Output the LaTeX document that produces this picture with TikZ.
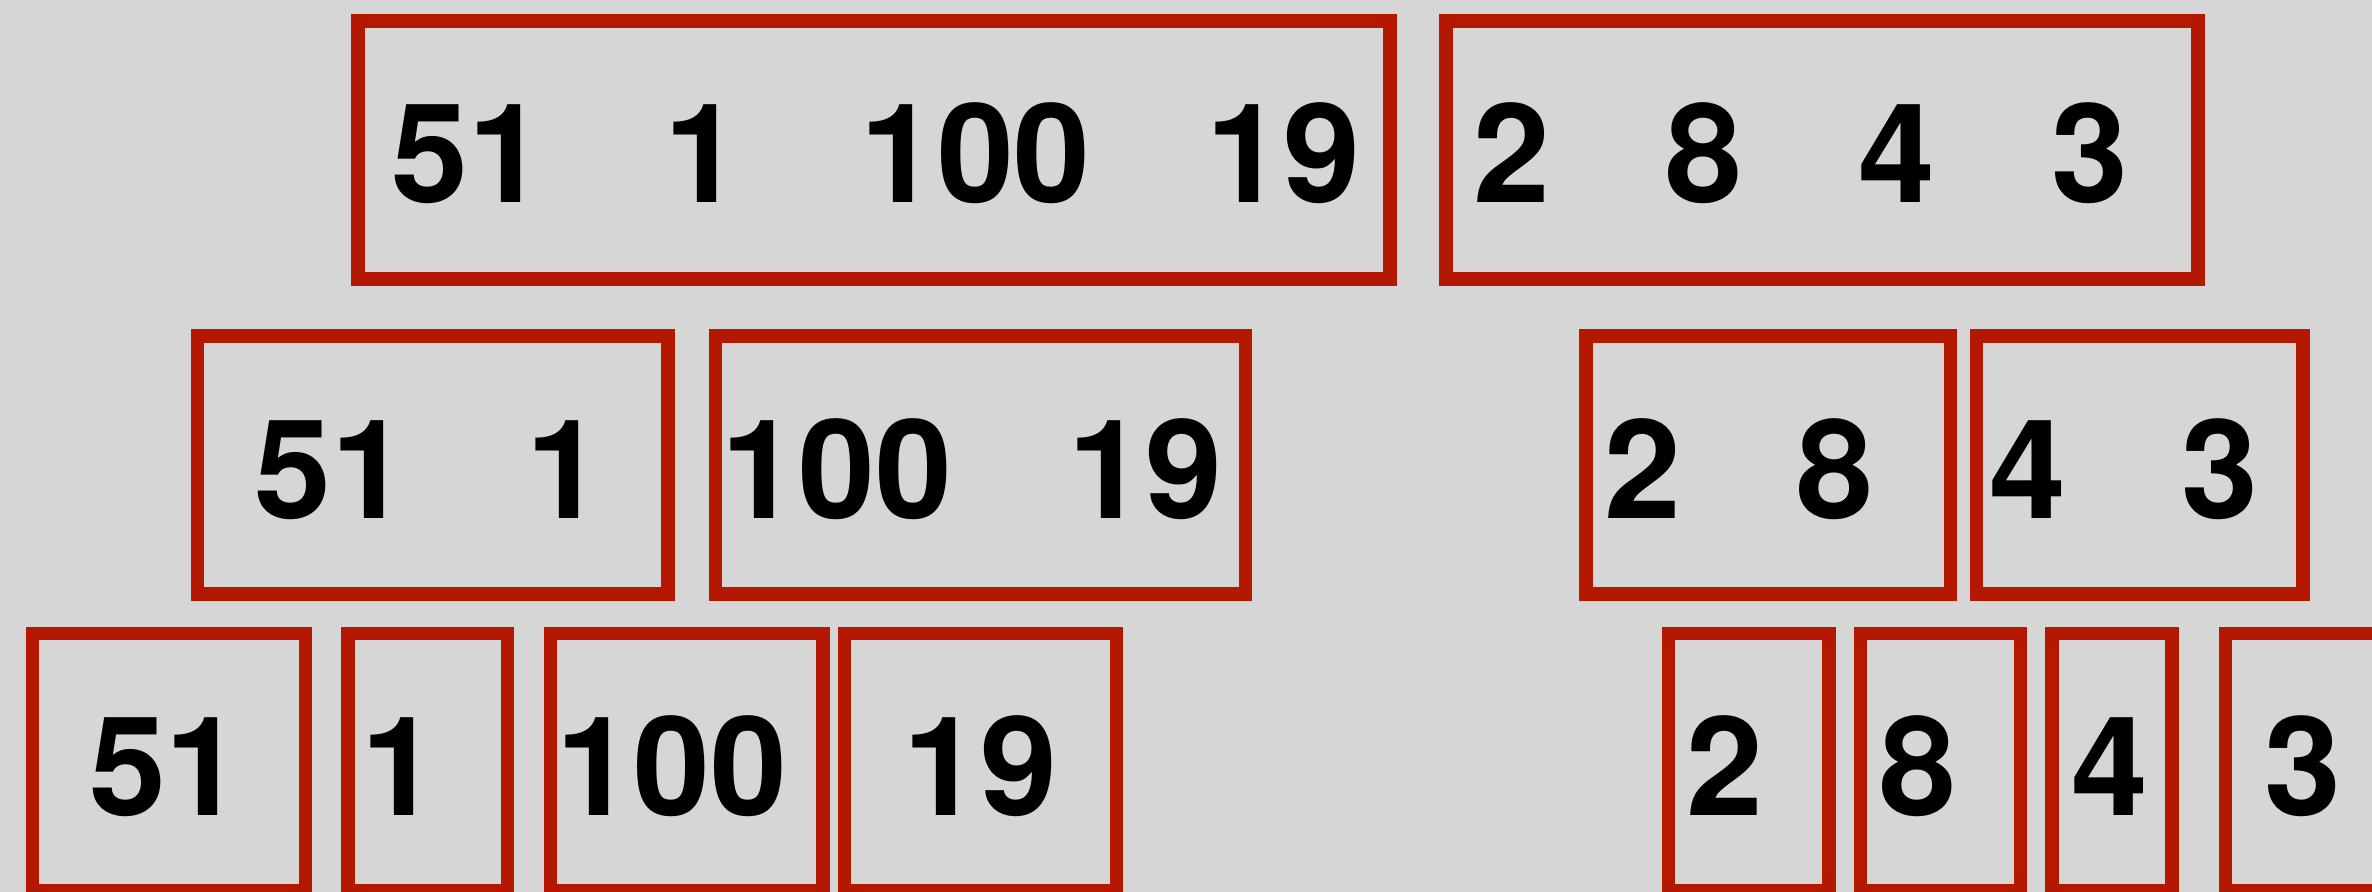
\documentclass[tikz,border=0pt]{standalone}
\usepackage{fontspec}
\setmainfont{TeX Gyre Heros}
\usetikzlibrary{fit}
\definecolor{bg}{RGB}{214,214,214}
\definecolor{boxred}{RGB}{181,24,0}
\tikzset{
  cell/.style={draw=boxred, line width=4.05pt, inner sep=0pt, outer sep=0pt},
  num/.style={anchor=base, inner sep=0pt, text=black, font=\fontsize{41.4pt}{41.4pt}\selectfont\bfseries}
}
\begin{document}
\begin{tikzpicture}[x=0.3pt, y=-0.3pt]
\fill[bg] (0,0) rectangle (2372,892);
\useasboundingbox (0,0) rectangle (2372,892);
\clip (0,0) rectangle (2372,892);
% row 1
\node[cell, fit={(358,21) (1390,279)}] (ra) {};
\node[cell, fit={(1446,21) (2198,279)}] (rb) {};
\node[num] (ra1) at (468,203) {51};
\node[num] (ra2) at (703,203) {1};
\node[num] (ra3) at (975.5,203) {100};
\node[num] (ra4) at (1283,203) {19};
\node[num] (rb1) at (1512,203) {2};
\node[num] (rb2) at (1704,203) {8};
\node[num] (rb3) at (1897,203) {4};
\node[num] (rb4) at (2089.5,203) {3};
% row 2
\node[cell, fit={(197.5,336) (668,594)}] (sa) {};
\node[cell, fit={(715.5,336) (1245.5,594)}] (sb) {};
\node[cell, fit={(1586,336) (1950.5,594)}] (sc) {};
\node[cell, fit={(1976.5,336) (2303,594)}] (sd) {};
\node[num] (sa1) at (331,518.3) {51};
\node[num] (sa2) at (565,518.3) {1};
\node[num] (sb1) at (837,518.3) {100};
\node[num] (sb2) at (1145.5,518.3) {19};
\node[num] (sc1) at (1642.5,518.3) {2};
\node[num] (sc2) at (1835,518.3) {8};
\node[num] (sd1) at (2028,518.3) {4};
\node[num] (sd2) at (2220,518.3) {3};
% row 3
\node[cell, fit={(32.5,633.5) (305.5,891)}] (ua) {};
\node[cell, fit={(348,633.5) (507.5,891)}] (ub) {};
\node[cell, fit={(550.5,633.5) (823,891)}] (uc) {};
\node[cell, fit={(844.5,633.5) (1116.5,891)}] (ud) {};
\node[cell, fit={(1668.5,633.5) (1829,891)}] (ue) {};
\node[cell, fit={(1860.5,633.5) (2020.5,891)}] (uf) {};
\node[cell, fit={(2052,633.5) (2172,891)}] (ug) {};
\node[cell, fit={(2225.5,633.5) (2420,891)}] (uh) {};
\node[num] (ua1) at (166,816) {51};
\node[num] (ub1) at (400,816) {1};
\node[num] (uc1) at (672,816) {100};
\node[num] (ud1) at (980.5,816) {19};
\node[num] (ue1) at (1725.3,816) {2};
\node[num] (uf1) at (1917.6,816) {8};
\node[num] (ug1) at (2110,816) {4};
\node[num] (uh1) at (2303,816) {3};
\end{tikzpicture}
\end{document}
